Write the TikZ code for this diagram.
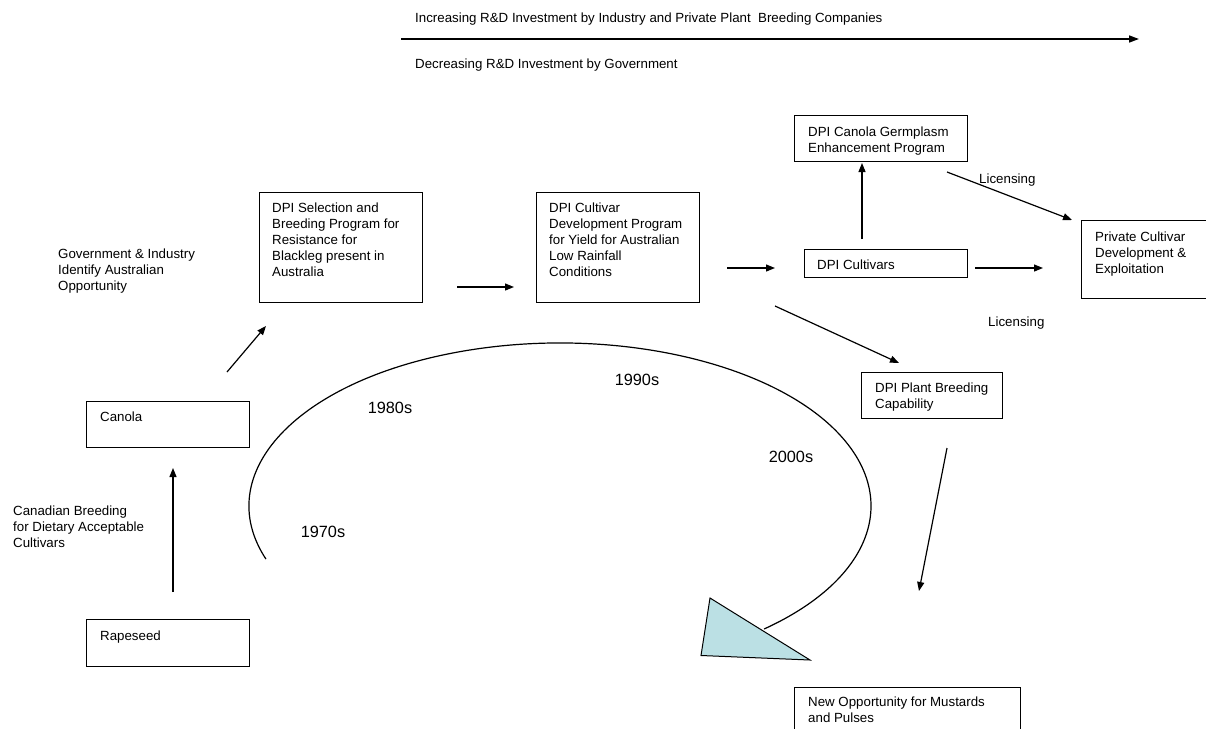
\documentclass[tikz,border=0pt]{standalone}
\usepackage{fontspec}
\setmainfont{Liberation Sans}
\usetikzlibrary{arrows.meta}
\definecolor{tri}{RGB}{187,224,228}
\tikzset{
  boxnode/.style={draw=black,line width=0.9pt,anchor=north west,inner sep=0pt},
  txt/.style={anchor=north west,inner sep=0pt,align=left,font=\fontsize{13.3}{16}\selectfont},
  yr/.style={inner sep=0pt,font=\fontsize{16.3}{19}\selectfont},
  arr/.style={line width=1.2pt,-{Triangle[length=9pt,width=7pt]}},
}
\newcommand{\bx}[5]{\node[boxnode,minimum width=#4pt-#2pt,minimum height=#5pt-#3pt] (#1) at (#2,#3) {};}
\begin{document}
\begin{tikzpicture}[x=1pt,y=-1pt]
\useasboundingbox (0,0) rectangle (1206,728);
% top arrow
\node[txt] (inc) at (415,12.2) {Increasing R\&D Investment by Industry and Private Plant\ \ Breeding Companies};
\node[txt] (dec) at (415,58.2) {Decreasing R\&D Investment by Government};
\coordinate (ta) at (401,39);
\coordinate (tb) at (1139,39);
\draw[line width=1.5pt,-{Triangle[length=10pt,width=7pt]}] (ta) -- (tb);
% boxes
\bx{sel}{259}{192}{422}{302}
\bx{cul}{536}{192}{699}{302}
\bx{germ}{794}{115}{967}{161}
\bx{cvs}{804}{249}{967}{277}
\bx{priv}{1081}{220}{1205.5}{298}
\bx{plant}{861}{372}{1002}{418}
\bx{newop}{794}{687}{1020}{740}
\bx{canola}{86}{401}{249}{447}
\bx{rape}{86}{619}{249}{666}
% texts
\node[txt] (tsel) at (272,202.2) {DPI Selection and\\Breeding Program for\\Resistance for\\Blackleg present in\\Australia};
\node[txt] (tcul) at (549,202.2) {DPI Cultivar\\Development Program\\for Yield for Australian\\Low Rainfall\\Conditions};
\node[txt] (tgerm) at (808,126.9) {DPI Canola Germplasm\\Enhancement Program};
\node[txt] (tcvs) at (817,259.2) {DPI Cultivars};
\node[txt] (tpriv) at (1095,231.2) {Private Cultivar\\Development \&\\Exploitation};
\node[txt] (tplant) at (875,382.9) {DPI Plant Breeding\\Capability};
\node[txt] (tnew) at (808,696.2) {New Opportunity for Mustards\\and Pulses};
\node[txt] (tcanola) at (100,411.2) {Canola};
\node[txt] (trape) at (100,630.2) {Rapeseed};
\node[txt] (gov) at (58,248.2) {Government \& Industry\\Identify Australian\\Opportunity};
\node[txt] (can) at (13,505.2) {Canadian Breeding\\for Dietary Acceptable\\Cultivars};
\node[txt] (lic1) at (979,173.2) {Licensing};
\node[txt] (lic2) at (988,316.7) {Licensing};
% years
\node[yr] (y70) at (323,532) {1970s};
\node[yr] (y80) at (390,408) {1980s};
\node[yr] (y90) at (637,380) {1990s};
\node[yr] (y00) at (791,457) {2000s};
% arrows
\coordinate (a1s) at (173,592); \coordinate (a1e) at (173,468);
\coordinate (a2s) at (227,372); \coordinate (a2e) at (266,326);
\coordinate (a3s) at (457,287); \coordinate (a3e) at (514,287);
\coordinate (a4s) at (727,268); \coordinate (a4e) at (775,268);
\coordinate (a5s) at (862,239); \coordinate (a5e) at (862,163);
\coordinate (a6s) at (947,172); \coordinate (a6e) at (1072,220);
\coordinate (a7s) at (975,268); \coordinate (a7e) at (1043,268);
\coordinate (a8s) at (775,306); \coordinate (a8e) at (899,363);
\coordinate (a9s) at (947,448); \coordinate (a9e) at (919,591);
\draw[arr] (a1s) -- (a1e);
\draw[arr] (a2s) -- (a2e);
\draw[arr] (a3s) -- (a3e);
\draw[arr] (a4s) -- (a4e);
\draw[arr] (a5s) -- (a5e);
\draw[arr] (a6s) -- (a6e);
\draw[arr] (a7s) -- (a7e);
\draw[arr] (a8s) -- (a8e);
\draw[arr] (a9s) -- (a9e);
% cycle arc
\coordinate (ec) at (560,506);
\draw[line width=1.2pt] ([shift={(161:311 and 163)}]ec) arc[start angle=161,end angle=409,x radius=311,y radius=163];
\coordinate (t1) at (710,598);
\coordinate (t2) at (701,655.5);
\coordinate (t3) at (810,660);
\draw[line width=1pt,fill=tri,line join=miter] (t1) -- (t3) -- (t2) -- cycle;
\end{tikzpicture}
\end{document}
